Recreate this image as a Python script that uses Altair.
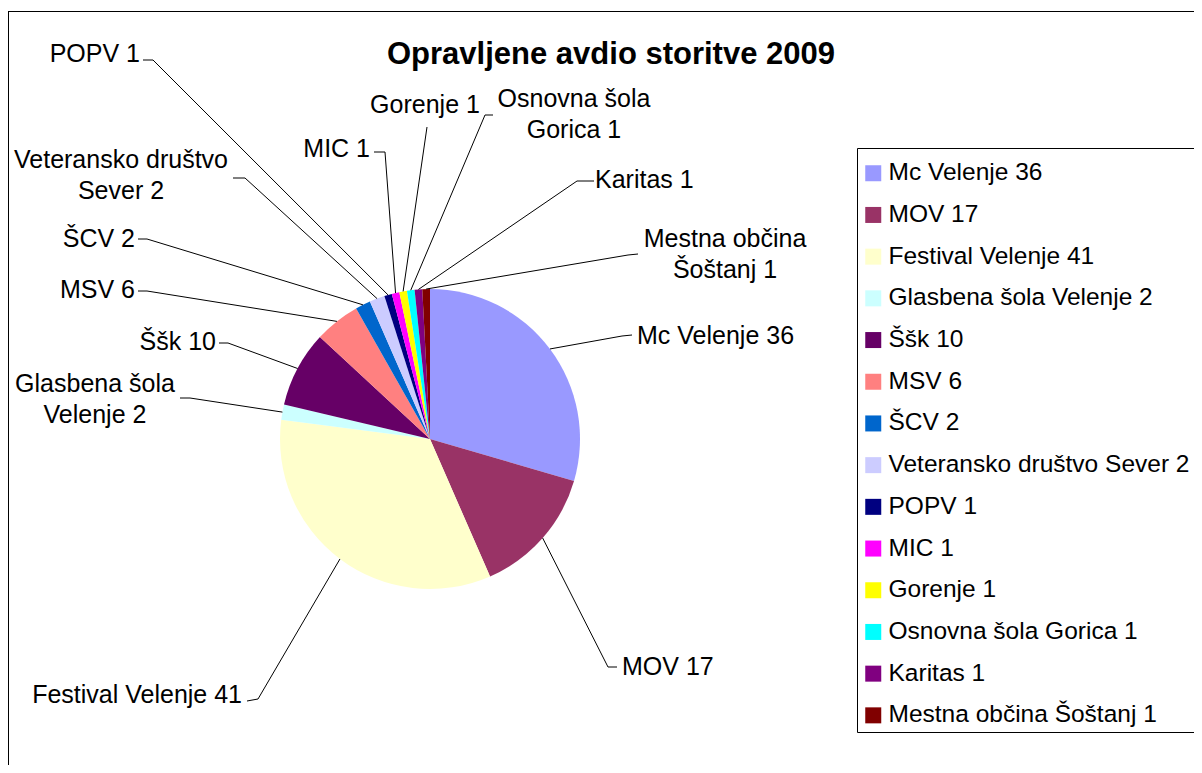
import altair as alt
import numpy as np
import pandas as pd

# ---------------- data ----------------
categories = ["Mc Velenje", "MOV", "Festival Velenje", "Glasbena šola Velenje", "Ššk", "MSV",
              "ŠCV", "Veteransko društvo Sever", "POPV", "MIC", "Gorenje",
              "Osnovna šola Gorica", "Karitas", "Mestna občina Šoštanj"]
values = [36, 17, 41, 2, 10, 6, 2, 2, 1, 1, 1, 1, 1, 1]
colors = ["#9999FF", "#993366", "#FFFFCC", "#CCFFFF", "#660066", "#FF8080", "#0066CC",
          "#CCCCFF", "#000080", "#FF00FF", "#FFFF00", "#00FFFF", "#800080", "#800000"]
pie_labels = ["Mc Velenje 36", "MOV 17", "Festival Velenje 41", "Glasbena šola\nVelenje 2",
              "Ššk 10", "MSV 6", "ŠCV 2", "Veteransko društvo\nSever 2", "POPV 1", "MIC 1",
              "Gorenje 1", "Osnovna šola\nGorica 1", "Karitas 1", "Mestna občina\nŠoštanj 1"]
title_text = "Opravljene avdio storitve 2009"

# ---------------- layout (page pixels) ----------------
X0, Y0 = 8, 11            # page position of the view origin
W, H = 1186, 754
CX, CY, R = 430 - X0, 439 - Y0, 150
FONT = "Liberation Sans"

label_align = ["left", "left", "right", "center", "right", "right", "right", "center",
               "right", "right", "center", "center", "left", "center"]
label_x = [637, 622, 242, 95, 216, 135, 135, 121, 140, 370, 425, 574, 595, 725]
label_y = [344, 675, 703, 392, 350, 298, 247, 168, 62, 157, 113, 107, 188, 247]
elbow_x = [622, 608, 258, 190, 228, 147, 147, 245, 153, 385, 427, 485, 577, 628]
elbow_y = [336, 667, 699, 398, 343, 291, 239, 178, 60, 152, 127, 115, 181, 255]
end_x = [632, 617, 247, 180, 219, 138, 138, 233, 143, 374, 427, 493, 594, 638]
end_y = [335, 667, 701, 398, 343, 291, 239, 178, 60, 152, 127, 115, 181, 254]

# ---------------- tables ----------------
legend_labels = [f"{c} {v}" for c, v in zip(categories, values)]
pie_df = pd.DataFrame({"cat": legend_labels, "value": values, "idx": range(len(values))})

vals = np.array(values, dtype=float)
mid = (np.cumsum(vals) - vals / 2) / vals.sum() * 2 * np.pi
edge_x = CX + R * np.sin(mid)
edge_y = CY - R * np.cos(mid)

rows = []
for i in range(len(values)):
    rows.append({"k": i, "o": 0, "x": edge_x[i], "y": edge_y[i]})
    rows.append({"k": i, "o": 1, "x": elbow_x[i] - X0, "y": elbow_y[i] - Y0})
    rows.append({"k": i, "o": 2, "x": end_x[i] - X0, "y": end_y[i] - Y0})
lines_df = pd.DataFrame(rows)

lab_df = pd.DataFrame({"t": pie_labels, "a": label_align,
                       "x": [v - X0 for v in label_x], "y": [v - Y0 for v in label_y]})
title_df = pd.DataFrame({"t": [title_text], "x": [611 - X0], "y": [64 - Y0]})

xs = alt.Scale(domain=[0, W], nice=False, zero=False)
ys = alt.Scale(domain=[0, H], nice=False, zero=False, reverse=True)
X = alt.X("x:Q", scale=xs, axis=None)
Y = alt.Y("y:Q", scale=ys, axis=None)

pie = alt.Chart(pie_df).mark_arc(radius=R).encode(
    theta=alt.Theta("value:Q", stack=True),
    order=alt.Order("idx:Q"),
    x=alt.value(CX), y=alt.value(CY),
    color=alt.Color("cat:N", scale=alt.Scale(domain=legend_labels, range=colors),
                    sort=legend_labels, title=None,
                    legend=alt.Legend(orient="none", legendX=861 - X0, legendY=161 - Y0,
                                      direction="vertical", padding=0,
                                      symbolType="square", symbolSize=256,
                                      symbolStrokeWidth=0, symbolOpacity=1,
                                      labelFont=FONT, labelFontSize=24.5, labelColor="black",
                                      labelOffset=3, rowPadding=16.7, labelLimit=600)),
)

one = pie_df.head(1)
# chart frame: only the top and left edges fall inside the window
frame_left = alt.Chart(one).mark_rule(color="black", strokeWidth=1).encode(
    x=alt.value(0.5), y=alt.value(0), y2=alt.value(H))
frame_top = alt.Chart(one).mark_rule(color="black", strokeWidth=1).encode(
    x=alt.value(0), x2=alt.value(W), y=alt.value(0.5))
# legend frame (its right edge lies beyond the window)
legend_box = alt.Chart(one).mark_rect(fill="white", stroke="black", strokeWidth=1).encode(
    x=alt.value(857.5 - X0), x2=alt.value(W + 20),
    y=alt.value(148.5 - Y0), y2=alt.value(732.5 - Y0))

leaders = alt.Chart(lines_df).mark_line(color="black", strokeWidth=1).encode(
    x=X, y=Y, detail="k:N", order="o:Q")

texts = []
for a in ["left", "right", "center"]:
    texts.append(
        alt.Chart(lab_df).transform_filter(alt.datum.a == a)
        .mark_text(align=a, baseline="alphabetic", font=FONT, fontSize=25, color="black",
                   lineBreak="\n", lineHeight=31)
        .encode(x=X, y=Y, text="t:N"))

title = alt.Chart(title_df).mark_text(align="center", baseline="alphabetic", font=FONT,
                                      fontSize=31, fontWeight="bold", color="black").encode(
    x=X, y=Y, text="t:N")

chart = alt.layer(frame_left, frame_top, legend_box, pie, leaders, *texts, title).properties(
    width=W, height=H, autosize=alt.AutoSizeParams(type="none"),
    padding={"top": 3, "left": 0, "right": 0, "bottom": 0},
).configure_view(stroke=None).configure(background="white")

chart.save("out.html", embed_options={"renderer": "svg", "actions": False})
